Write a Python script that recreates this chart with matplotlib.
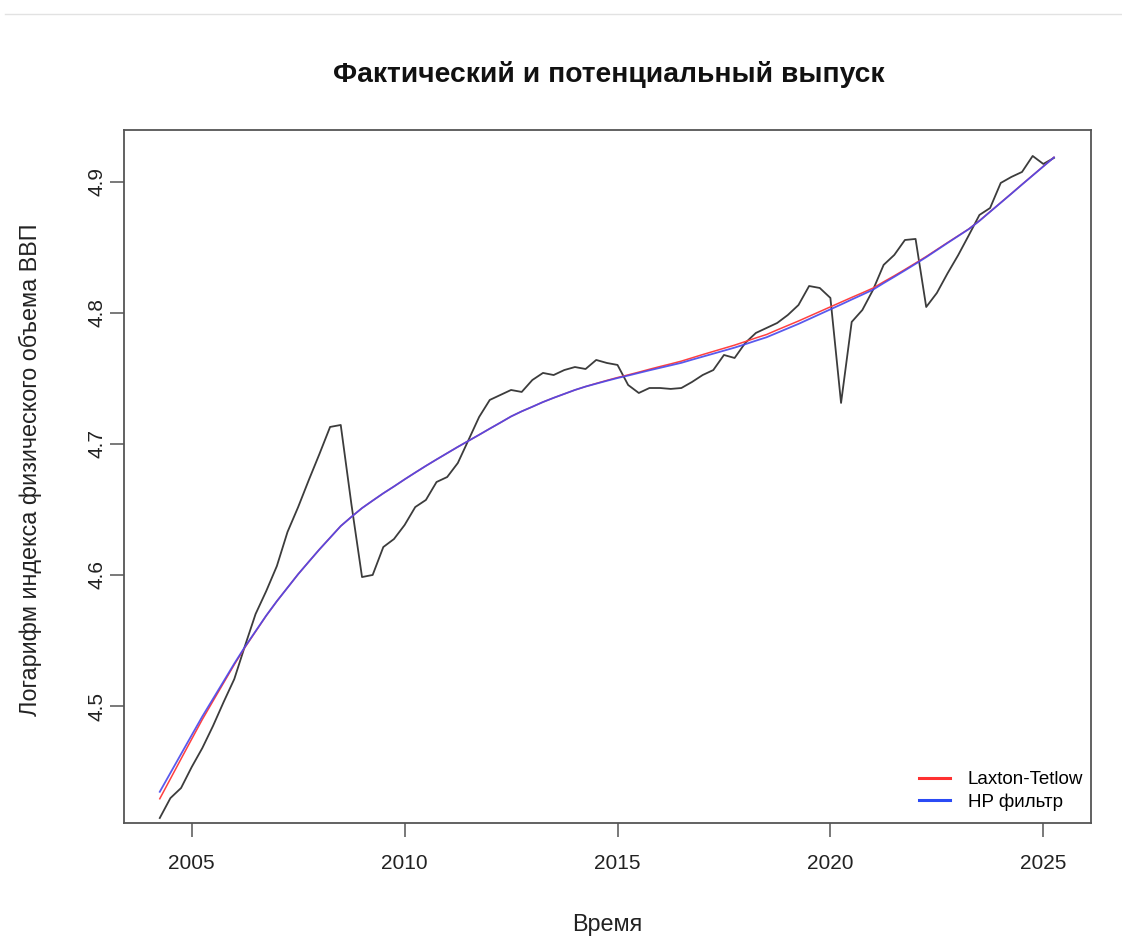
import numpy as np
import matplotlib
matplotlib.use("Agg")
import matplotlib.pyplot as plt
from matplotlib.lines import Line2D

plt.rcParams['font.family'] = ['Liberation Sans', 'DejaVu Sans']

# Quarterly time index: 2004 Q2 .. 2025 Q2
start_year = 2004.25
n_obs = 85
quarters = start_year + 0.25 * np.arange(n_obs)

# Log of the real GDP volume index (actual output)
log_gdp = [
    4.4146, 4.4298, 4.4375, 4.4535, 4.4680, 4.4848, 4.5031, 4.5206, 4.5458, 4.5702,
    4.5877, 4.6068, 4.6328, 4.6518, 4.6724, 4.6923, 4.7129, 4.7144, 4.6541, 4.5984,
    4.6000, 4.6213, 4.6274, 4.6381, 4.6518, 4.6572, 4.6709, 4.6747, 4.6854, 4.7029,
    4.7205, 4.7335, 4.7373, 4.7411, 4.7396, 4.7487, 4.7541, 4.7525, 4.7563, 4.7586,
    4.7571, 4.7640, 4.7617, 4.7602, 4.7449, 4.7388, 4.7426, 4.7426, 4.7419, 4.7426,
    4.7472, 4.7525, 4.7563, 4.7678, 4.7655, 4.7770, 4.7846, 4.7884, 4.7922, 4.7983,
    4.8059, 4.8204, 4.8189, 4.8113, 4.7312, 4.7930, 4.8021, 4.8174, 4.8365, 4.8441,
    4.8555, 4.8563, 4.8044, 4.8151, 4.8300, 4.8439, 4.8591, 4.8746, 4.8799, 4.8990,
    4.9036, 4.9074, 4.9196, 4.9135, 4.9181,
]

# Potential output, Laxton-Tetlow filter
trend_lt = [
    4.4293, 4.4445, 4.4597, 4.4748, 4.4898, 4.5038, 4.5177, 4.5316, 4.5447, 4.5568,
    4.5689, 4.5800, 4.5903, 4.6006, 4.6101, 4.6195, 4.6284, 4.6373, 4.6443, 4.6510,
    4.6567, 4.6623, 4.6675, 4.6729, 4.6781, 4.6832, 4.6881, 4.6929, 4.6977, 4.7023,
    4.7069, 4.7116, 4.7162, 4.7209, 4.7248, 4.7283, 4.7319, 4.7351, 4.7381, 4.7411,
    4.7437, 4.7461, 4.7484, 4.7506, 4.7526, 4.7547, 4.7569, 4.7590, 4.7610, 4.7631,
    4.7656, 4.7681, 4.7705, 4.7729, 4.7753, 4.7780, 4.7808, 4.7834, 4.7869, 4.7903,
    4.7937, 4.7973, 4.8009, 4.8045, 4.8081, 4.8117, 4.8152, 4.8188, 4.8236, 4.8282,
    4.8330, 4.8379, 4.8429, 4.8482, 4.8535, 4.8587, 4.8639, 4.8702, 4.8771, 4.8840,
    4.8909, 4.8979, 4.9048, 4.9117, 4.9186,
]

# Potential output, Hodrick-Prescott filter
trend_hp = [
    4.4346, 4.4490, 4.4634, 4.4778, 4.4921, 4.5055, 4.5189, 4.5324, 4.5452, 4.5571,
    4.5690, 4.5800, 4.5903, 4.6006, 4.6101, 4.6195, 4.6284, 4.6373, 4.6443, 4.6510,
    4.6567, 4.6623, 4.6675, 4.6729, 4.6781, 4.6832, 4.6881, 4.6929, 4.6977, 4.7023,
    4.7069, 4.7116, 4.7162, 4.7209, 4.7248, 4.7283, 4.7319, 4.7351, 4.7381, 4.7411,
    4.7437, 4.7459, 4.7481, 4.7502, 4.7521, 4.7541, 4.7561, 4.7580, 4.7599, 4.7618,
    4.7642, 4.7665, 4.7688, 4.7711, 4.7734, 4.7760, 4.7787, 4.7813, 4.7847, 4.7881,
    4.7915, 4.7952, 4.7989, 4.8026, 4.8063, 4.8101, 4.8138, 4.8176, 4.8226, 4.8274,
    4.8323, 4.8373, 4.8424, 4.8478, 4.8532, 4.8585, 4.8638, 4.8701, 4.8770, 4.8839,
    4.8908, 4.8978, 4.9047, 4.9116, 4.9185,
]

x_ticks = [2005, 2010, 2015, 2020, 2025]
y_ticks = [4.5, 4.6, 4.7, 4.8, 4.9]
y_tick_labels = ["4.5", "4.6", "4.7", "4.8", "4.9"]
series_labels = ["Laxton-Tetlow", "HP фильтр"]

W, H = 1122, 941
fig = plt.figure(figsize=(W / 100, H / 100), dpi=100)
fig.patch.set_facecolor("white")

# thin separator line along the top edge
fig.add_artist(Line2D([5 / W, 1.0], [1 - 14 / H, 1 - 14 / H],
                      color="#e2e2e2", lw=1.0))

ax = fig.add_axes([124 / W, 1 - 823 / H, (1091 - 124) / W, (823 - 130) / H])

ax.plot(quarters, log_gdp, color="#3c3c3c", lw=1.3, zorder=3)
ax.plot(quarters, trend_lt, color="#ff4040", lw=1.1, zorder=4)
ax.plot(quarters, trend_hp, color="#4848ec", lw=1.3, alpha=0.9, zorder=5)

ax.set_xlim(2003.41, 2026.12)
ax.set_ylim(4.4108, 4.9394)

ax.set_xticks(x_ticks)
ax.set_xticklabels([str(t) for t in x_ticks])
ax.set_yticks(y_ticks)
ax.set_yticklabels(y_tick_labels, rotation=90, va="center")

ax.tick_params(axis="both", direction="out", length=10, width=1.1,
               color="#555555", labelsize=15, labelcolor="#222222")
ax.tick_params(axis="x", pad=12.5)
ax.tick_params(axis="y", pad=2.5)

for sp in ax.spines.values():
    sp.set_color("#555555")
    sp.set_linewidth(1.3)

handles = [Line2D([], [], color="#ff3030", lw=2.2),
           Line2D([], [], color="#2a4af5", lw=2.2)]
ax.legend(handles, series_labels, loc="lower right", frameon=False,
          bbox_to_anchor=(0.9995, 0.0072),
          fontsize=13.5, handlelength=1.65, handletextpad=0.96,
          labelspacing=0.25, borderaxespad=0.0, borderpad=0.4)

fig.text(609 / W, 1 - 75 / H, "Фактический и потенциальный выпуск",
         ha="center", va="center", fontsize=20.3, fontweight="bold",
         color="#111111")
fig.text(607 / W, 1 - 925 / H, "Время", ha="center", va="center",
         fontsize=16.8, color="#222222")
fig.text(30 / W, 1 - 470 / H, "Логарифм индекса физического объема ВВП",
         ha="center", va="center", rotation=90, fontsize=16.8, color="#222222")

fig.savefig("out.png", dpi=100)
